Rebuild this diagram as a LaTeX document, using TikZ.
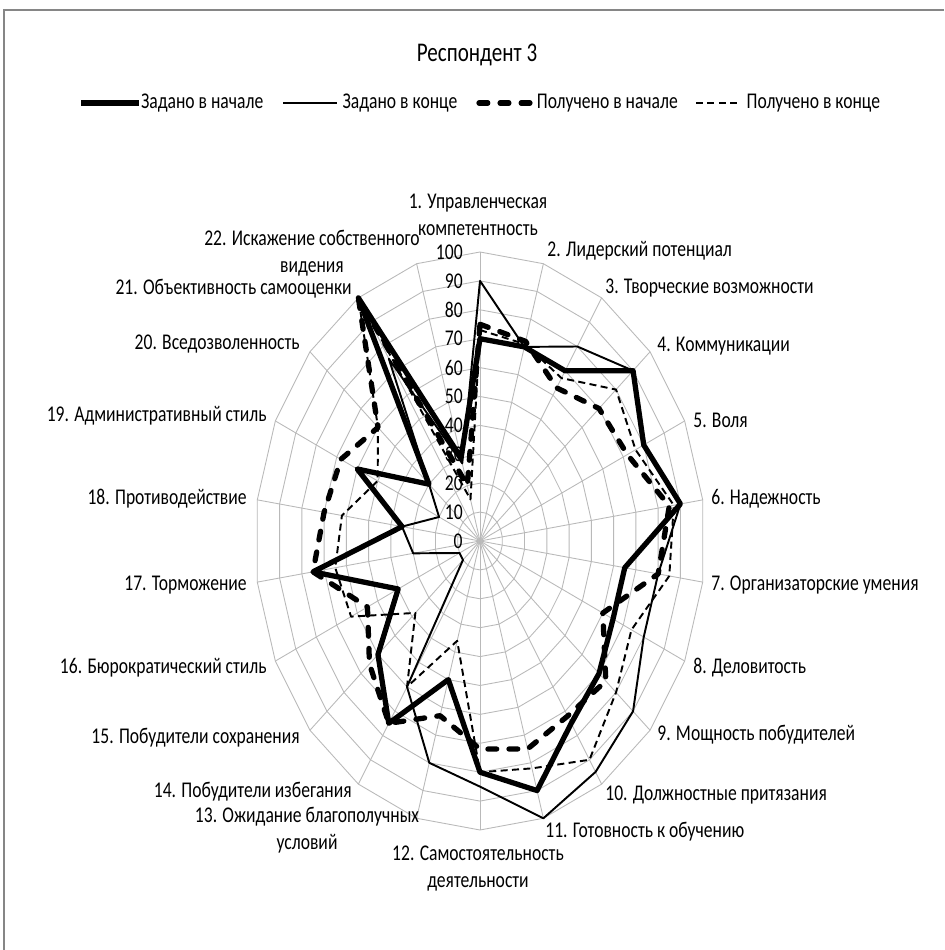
\documentclass[tikz,border=0pt]{standalone}
\usepackage{fontspec}
\setmainfont{Carlito}
\usetikzlibrary{positioning}
\definecolor{gridGray}{RGB}{185,185,185}
\definecolor{frameGray}{RGB}{134,134,134}

\begin{document}
\begin{tikzpicture}[x=0.02cm, y=0.02cm,
    lbl/.style={font=\fontsize{10}{12}\selectfont, yscale=1.28, inner sep=0pt, align=center},
    gridline/.style={gridGray, line width=0.5pt},
    serA/.style={line width=3pt, line join=round},
    serB/.style={line width=1.1pt, line join=round},
    serC/.style={line width=3pt, line join=round, line cap=round, dash pattern=on 5pt off 7pt},
    serD/.style={line width=1.1pt, line join=round, dash pattern=on 4pt off 2.5pt}]
\useasboundingbox (0,0) rectangle (944,950);
\draw[frameGray, line width=1.2pt] (4,0) -- (4,940) -- (944,940);

\node[font=\fontsize{12}{14}\selectfont, yscale=1.28] (title) at (477,895) {Респондент 3};

% legend
\coordinate (kA1) at (81,847);  \coordinate (kA2) at (139,847);
\coordinate (kB1) at (283,847); \coordinate (kB2) at (337,847);
\coordinate (kC1) at (479,847); \coordinate (kC2) at (533,847);
\coordinate (kD1) at (696,847); \coordinate (kD2) at (741,847);
\draw[serA] (kA1) -- (kA2);
\draw[serB] (kB1) -- (kB2);
\draw[serC] (kC1) -- (kC2);
\draw[serD] (kD1) -- (kD2);
\node[lbl, right=1pt of kA2] (kAt) {Задано в начале};
\node[lbl, right=3pt of kB2] (kBt) {Задано в конце};
\node[lbl, right=2pt of kC2] (kCt) {Получено в начале};
\node[lbl, right=3pt of kD2] (kDt) {Получено в конце};

% chart
\begin{scope}[shift={(480,409)}, xscale=2.25, yscale=2.89]
  \foreach \r in {10,20,...,100}
    \draw[gridline] (90:\r) \foreach \k in {1,...,21} { -- ({90-\k*360/22}:\r) } -- cycle;
  \foreach \k in {0,...,21}
    \draw[gridline] (0,0) -- ({90-\k*360/22}:100);
  \draw[serA] (90:70) \foreach \v [count=\k] in {70,70,90,80,90,65,65,70,75,90,80,50,75,60,40,75,35,60,30,100,30}
    { -- ({90-\k*360/22}:\v) } -- cycle;
  \draw[serB] (90:90) \foreach \v [count=\k] in {70,80,90,80,90,80,80,90,95,100,85,80,60,10,10,30,35,20,30,75,28}
    { -- ({90-\k*360/22}:\v) } -- cycle;
  \draw[serC] (90:75) \foreach \v [count=\k] in {72,63,70,72,85,80,60,74,72,75,72,63,75,65,55,75,70,68,60,100,20}
    { -- ({90-\k*360/22}:\v) } -- cycle;
  \draw[serD] (90:73) \foreach \v [count=\k] in {71,67,80,76,87,85,74,80,90,82,80,36,60,38,63,65,62,50,60,100,15}
    { -- ({90-\k*360/22}:\v) } -- cycle;
\end{scope}

% scale
\foreach \r in {0,10,...,100}
  \node[lbl, anchor=east] (t\r) at (463,{409+2.89*\r}) {\r};

% axis labels
\node[lbl] (l1) at (478,735) {1. Управленческая\\компетентность};
\node[lbl, anchor=west] (l2) at (547,699) {2. Лидерский потенциал};
\node[lbl, anchor=west] (l3) at (605,662) {3. Творческие возможности};
\node[lbl, anchor=west] (l4) at (657,604) {4. Коммуникации};
\node[lbl, anchor=west] (l5) at (693,530) {5. Воля};
\node[lbl, anchor=west] (l6) at (711,451) {6. Надежность};
\node[lbl, anchor=west] (l7) at (711,365) {7. Организаторские умения};
\node[lbl, anchor=west] (l8) at (693,282) {8. Деловитость};
\node[lbl, anchor=west] (l9) at (657,215) {9. Мощность побудителей};
\node[lbl, anchor=west] (l10) at (605,155) {10. Должностные притязания};
\node[lbl, anchor=west] (l11) at (545,118) {11. Готовность к обучению};
\node[lbl] (l12) at (478,81) {12. Самостоятельность\\деятельности};
\node[lbl] (l13) at (307,120) {13. Ожидание благополучных\\условий};
\node[lbl, anchor=east] (l14) at (352,158) {14. Побудители избегания};
\node[lbl, anchor=east] (l15) at (300,212) {15. Побудители сохранения};
\node[lbl, anchor=east] (l16) at (267,282) {16. Бюрократический стиль};
\node[lbl, anchor=east] (l17) at (247,365) {17. Торможение};
\node[lbl, anchor=east] (l18) at (247,451) {18. Противодействие};
\node[lbl, anchor=east] (l19) at (267,534) {19. Административный стиль};
\node[lbl, anchor=east] (l20) at (300,606) {20. Вседозволенность};
\node[lbl, anchor=east] (l21) at (352,661) {21. Объективность самооценки};
\node[lbl] (l22) at (312,697) {22. Искажение собственного\\видения};
\end{tikzpicture}
\end{document}
